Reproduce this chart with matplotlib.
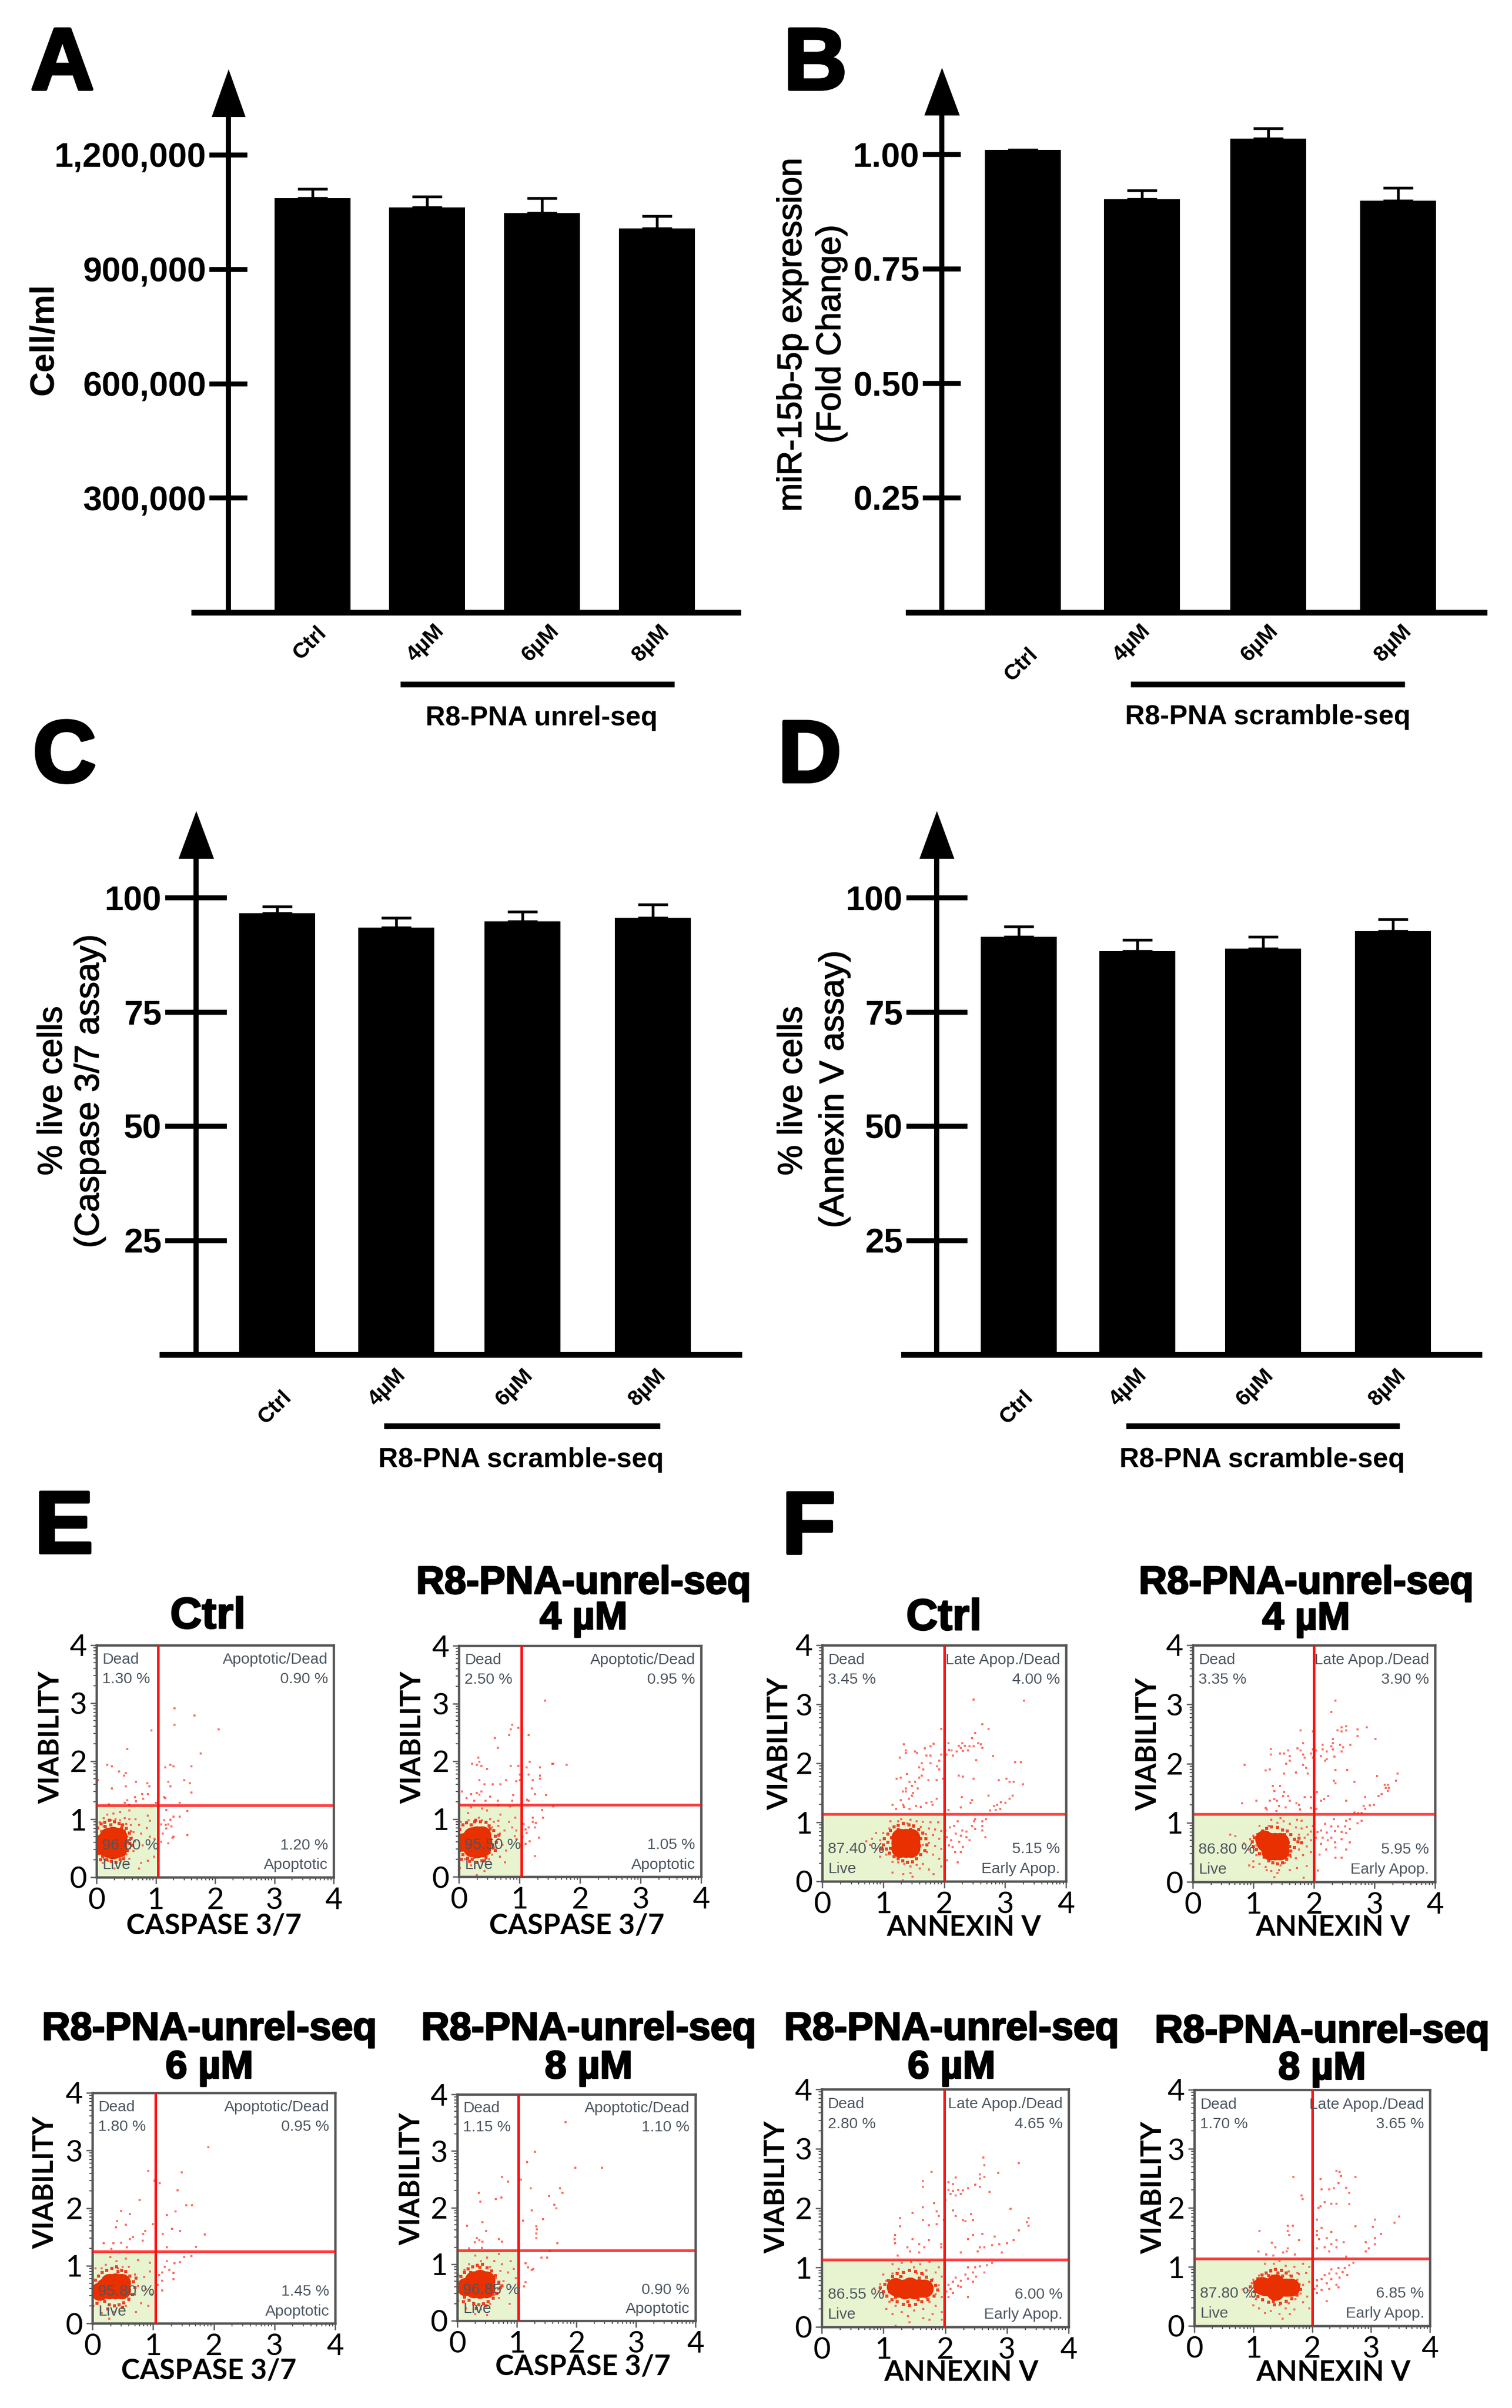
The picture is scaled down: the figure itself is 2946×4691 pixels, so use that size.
import numpy as np
import matplotlib
matplotlib.use('Agg')
import matplotlib.pyplot as plt
from matplotlib.lines import Line2D
from matplotlib.patches import Rectangle
import matplotlib.patheffects as pe

W, H = 2946, 4691
PT = 300 / 72  # pixels per point
plt.rcParams['font.family'] = ['Liberation Sans', 'DejaVu Sans']

doses = ['Ctrl', '4µM', '6µM', '8µM']

# bar charts
cells_mean = [1087000, 1062500, 1048000, 1007000]
cells_err = [24000, 28000, 39000, 32500]
cells_ticks = [300000, 600000, 900000, 1200000]
cells_ticklabels = ['300,000', '600,000', '900,000', '1,200,000']

mir_mean = [1.01, 0.902, 1.035, 0.899]
mir_err = [0.0, 0.020, 0.022, 0.028]
mir_ticks = [0.25, 0.50, 0.75, 1.00]
mir_ticklabels = ['0.25', '0.50', '0.75', '1.00']

caspase_mean = [96.6, 93.5, 94.8, 95.6]
caspase_err = [1.5, 2.1, 2.2, 2.9]
annexin_mean = [91.5, 88.3, 88.9, 92.7]
annexin_err = [2.2, 2.5, 2.6, 2.6]
live_ticks = [25, 50, 75, 100]
live_ticklabels = ['25', '50', '75', '100']

# quadrant percentages: upper left, upper right, lower left, lower right
e_pct = [['1.30', '0.90', '96.60', '1.20'], ['2.50', '0.95', '95.50', '1.05'],
         ['1.80', '0.95', '95.80', '1.45'], ['1.15', '1.10', '96.85', '0.90']]
f_pct = [['3.45', '4.00', '87.40', '5.15'], ['3.35', '3.90', '86.80', '5.95'],
         ['2.80', '4.65', '86.55', '6.00'], ['1.70', '3.65', '87.80', '6.85']]

e_gates = [(1.04, 1.237), (1.03, 1.248), (1.04, 1.249), (1.03, 1.246)]
f_gates = [(2.0, 1.143), (2.0, 1.148), (1.99, 1.136), (2.0, 1.142)]

# flow cytometry events
# *_core is the solid centre of the cloud, *_ring the crowded events just around it
e1_core = [(.28, .6), (.2, .6), (.36, .6), (.28, .72), (.28, .47), (.2, .7), (.36, .7), (.2, .5), (.36, .5), (.12, .6), (.05, .55)]
e1_ring = [(.02, .85), (.08, .92), (.14, .95), (.22, .98), (.3, .96), (.38, .93), (.44, .9), (.5, .84), (.55, .76), (.58, .66),
           (.56, .58), (.52, .46), (.46, .38), (.4, .3), (.33, .26), (.25, .27), (.17, .3), (.1, .36), (.04, .42), (.02, .7),
           (.47, .8), (.52, .62), (.46, .32), (.15, .88), (.24, .9), (.42, .85), (.07, .3), (.6, .55)]
e1_pts = [(1.32, 2.91), (1.65, 2.79), (1.32, 2.63), (2.06, 2.55), (.93, 2.53), (.52, 2.21), (1.76, 2.13), (.18, 1.94),
          (.26, 1.91), (.38, 1.82), (.49, 1.8), (.47, 1.75), (.03, 1.67), (.67, 1.65), (.86, 1.62), (.89, 1.57),
          (.49, 1.57), (.26, 1.53), (1.16, 1.89), (1.25, 1.94), (1.3, 1.91), (1.6, 1.91), (1.21, 1.65), (1.25, 1.57),
          (1.48, 1.67), (1.58, 1.62), (1.6, 1.46), (.65, 1.38), (.77, 1.43), (.87, 1.43), (.79, 1.35), (.67, 1.31),
          (.52, 1.33), (1.14, 1.38), (1.16, 1.36), (1.4, 1.28), (.21, 1.26), (.48, 1.28), (.55, 1.25), (1.0, 1.28),
          (1.18, 1.16), (1.53, 1.14), (1.4, 1.04), (1.3, 1.04), (1.25, .99), (1.14, .98), (1.09, .91), (1.17, .9),
          (1.21, .91), (1.26, .88), (1.18, .84), (1.12, .75), (1.53, .73), (1.3, .7), (1.28, .68), (1.09, .61), (1.21, .58),
          (.18, 1.08), (.29, 1.1), (.4, 1.12), (.55, 1.15), (.66, 1.0), (.87, 1.06), (.9, .97), (.85, .85), (.72, .9),
          (.75, .75), (.62, .78), (.65, .62), (.78, .55), (.9, .7), (.98, .66), (.97, .35), (.87, .28), (.75, .25),
          (.72, .15), (.5, .22), (.3, .15), (.3, .0), (.1, .25), (.05, .95), (.02, .4), (.55, 1.0), (.48, 1.02), (.4, .98),
          (.32, 1.0), (.25, .98), (.12, 1.02), (.58, .9), (.5, .92), (.42, .9), (.12, .88), (.08, .8), (.58, .8), (.52, .7),
          (.6, .68), (.56, .5), (.62, .45), (.5, .4), (.55, .32), (.4, .25), (.2, .28), (.12, .32), (.05, .5), (.04, .7)]

e2_core = [(.3, .6), (.38, .6), (.22, .6), (.3, .72), (.3, .48), (.38, .72), (.22, .7), (.22, .5), (.38, .5), (.14, .62), (.06, .6), (.4, .62)]
e2_ring = [(.02, .82), (.07, .9), (.13, .93), (.2, .9), (.28, .98), (.36, .95), (.45, .94), (.5, .88), (.58, .8), (.6, .7),
           (.62, .6), (.57, .5), (.5, .42), (.45, .33), (.38, .28), (.3, .25), (.22, .3), (.14, .32), (.07, .38), (.02, .45),
           (.56, .55), (.52, .83), (.66, .72), (.42, .28), (.18, .27), (.26, .95), (.6, .45), (.04, .3)]
e2_pts = [(1.42, 3.05), (.88, 2.63), (.98, 2.58), (.86, 2.55), (.83, 2.45), (1.15, 2.45), (.59, 2.4), (.64, 2.23),
          (.32, 2.06), (.22, 1.96), (.3, 1.94), (.34, 1.99), (.37, 1.92), (.47, 1.87), (.86, 1.92), (.98, 1.92),
          (1.17, 1.99), (1.12, 1.89), (1.34, 1.89), (1.54, 1.96), (1.56, 1.96), (1.78, 1.94), (1.01, 1.77), (1.15, 1.77),
          (1.34, 1.75), (1.34, 1.7), (.34, 1.67), (.78, 1.67), (.95, 1.65), (1.01, 1.67), (1.22, 1.67), (.42, 1.6),
          (.56, 1.6), (.69, 1.6), (1.2, 1.53), (.05, 1.48), (.3, 1.45), (.34, 1.42), (.37, 1.48), (.2, 1.43), (.9, 1.41),
          (1.25, 1.43), (1.44, 1.41), (.52, 1.39), (.13, 1.36), (.25, 1.32), (.44, 1.32), (.64, 1.32), (.88, 1.32),
          (1.13, 1.33), (1.15, 1.32), (1.37, 1.16), (1.56, 1.22), (1.22, 1.02), (1.39, 1.02), (1.22, .95), (1.27, .93),
          (1.25, .85), (1.07, .92), (1.1, .82), (1.15, .85), (1.12, .76), (1.32, .68), (1.17, .61), (1.05, .69), (1.1, .57),
          (1.25, .36), (.2, 1.2), (.38, 1.18), (.65, 1.24), (.85, 1.22), (.47, 1.15), (.15, 1.1), (.16, .98), (.33, 1.02),
          (.38, .98), (.45, .95), (.52, 1.0), (.58, .95), (.65, .97), (.69, 1.08), (.93, 1.02), (.83, .95), (.55, .85),
          (.65, .88), (.68, .75), (.75, .8), (.88, .85), (.95, .8), (.92, .7), (.65, .65), (.72, .55), (.78, .45), (.62, .5),
          (.68, .35), (.76, .25), (.45, .35), (.42, .1), (.3, .03), (.1, .3), (.02, .15), (.03, .95), (.5, .3), (.55, .38),
          (.95, .65), (.2, .2)]

e3_core = [(.38, .65), (.3, .65), (.46, .65), (.38, .71), (.38, .58), (.28, .58), (.48, .58), (.28, .7), (.48, .7), (.2, .62), (.12, .55)]
e3_ring = [(.05, .75), (.1, .82), (.16, .88), (.24, .92), (.32, .95), (.4, .98), (.48, .92), (.55, .9), (.62, .82), (.68, .72),
           (.7, .62), (.66, .5), (.6, .42), (.52, .36), (.44, .32), (.36, .3), (.28, .32), (.2, .38), (.13, .42), (.06, .45),
           (.03, .6), (.58, .62), (.15, .72), (.5, .28), (.25, .25), (.72, .78), (.42, .9), (.08, .35)]
e3_pts = [(1.91, 3.06), (.92, 2.65), (1.47, 2.62), (1.02, 2.48), (1.11, 2.43), (1.4, 2.31), (.78, 2.14), (1.55, 2.05),
          (1.64, 2.05), (.47, 1.95), (.62, 1.9), (1.05, 1.95), (1.37, 1.94), (1.23, 1.88), (.41, 1.77), (.55, 1.71),
          (1.0, 1.72), (.39, 1.67), (1.31, 1.64), (1.45, 1.6), (.87, 1.6), (.84, 1.55), (1.16, 1.55), (1.85, 1.54),
          (.67, 1.5), (.62, 1.46), (.19, 1.39), (.35, 1.39), (.47, 1.4), (1.71, 1.33), (.83, 1.43), (1.23, 1.32),
          (.31, 1.29), (.57, 1.32), (1.63, 1.17), (1.51, 1.15), (1.45, 1.06), (1.35, 1.04), (1.23, 1.08), (1.19, .98),
          (1.27, .93), (1.34, .87), (1.15, .88), (1.1, .84), (1.34, .77), (1.15, .74), (1.07, .67), (1.15, .57),
          (.3, 1.15), (.55, 1.12), (.75, 1.1), (.95, 1.05), (.4, 1.08), (.22, 1.02), (.15, .95), (.6, .98), (.7, .85),
          (.85, .8), (.95, .9), (.62, .72), (.75, .65), (.88, .6), (.98, .5), (.8, .35), (.6, .4), (.55, .3), (.35, .2),
          (.28, .08), (.15, .18), (.02, .3), (.7, .5), (.62, .55), (.5, .98), (.42, .95), (.05, .95), (.92, .3), (.72, .2)]

e4_core = [(.38, .65), (.3, .65), (.46, .65), (.38, .74), (.38, .55), (.28, .56), (.48, .56), (.28, .72), (.48, .72), (.2, .62), (.14, .6)]
e4_ring = [(.06, .78), (.12, .85), (.18, .92), (.26, .95), (.34, .98), (.42, 1.0), (.5, .93), (.58, .88), (.64, .8), (.7, .68),
           (.72, .58), (.66, .48), (.6, .4), (.52, .34), (.44, .3), (.36, .28), (.28, .3), (.2, .36), (.12, .42), (.07, .5),
           (.04, .65), (.6, .72), (.22, .85), (.48, .26), (.32, .22), (.75, .62), (.38, .94), (.1, .34)]
e4_pts = [(1.82, 3.51), (1.3, 2.98), (1.17, 2.8), (1.98, 2.7), (2.43, 2.7), (.75, 2.54), (.85, 2.46), (1.07, 2.49),
          (1.23, 2.34), (1.72, 2.34), (1.77, 2.26), (.36, 2.26), (1.54, 2.2), (.74, 2.18), (.65, 2.15), (.39, 2.1),
          (1.63, 2.05), (1.66, 1.99), (1.25, 1.95), (1.44, 1.8), (1.1, 1.77), (.42, 1.74), (.16, 1.68), (1.33, 1.67),
          (1.34, 1.61), (.48, 1.59), (1.33, 1.54), (.33, 1.46), (.37, 1.42), (.42, 1.4), (.29, 1.39), (.7, 1.44),
          (.75, 1.4), (1.68, 1.37), (1.33, 1.46), (.2, 1.28), (.41, 1.29), (1.55, 1.23), (1.41, 1.12), (1.51, 1.12),
          (1.15, 1.02), (1.19, .94), (1.25, .9), (1.28, .92), (1.15, .68), (1.12, .61), (.3, 1.15), (.5, 1.12), (.7, 1.18),
          (.9, 1.05), (.75, 1.0), (.62, 1.05), (.4, 1.05), (.2, 1.0), (.12, .9), (.55, .95), (.72, .88), (.85, .85),
          (.95, .92), (.65, .75), (.78, .7), (.9, .6), (.98, .75), (.68, .55), (.7, .4), (.55, .3), (.4, .2), (.3, .12),
          (.15, .22), (.5, .1), (.02, .35), (.03, .8), (.88, .3), (.62, .45)]

f1_core = [(1.37, .65), (1.28, .65), (1.46, .65), (1.37, .74), (1.37, .56), (1.28, .56), (1.46, .56), (1.28, .74), (1.46, .74)]
f1_ring = [(1.02, .72), (1.08, .8), (1.12, .86), (1.18, .92), (1.25, .95), (1.33, .98), (1.42, .96), (1.5, .94), (1.58, .88),
           (1.65, .82), (1.7, .72), (1.72, .62), (1.68, .52), (1.62, .45), (1.55, .38), (1.48, .33), (1.4, .32), (1.32, .35),
           (1.25, .38), (1.18, .42), (1.1, .48), (1.05, .55), (1.0, .62), (1.08, .66), (1.12, .56), (1.6, .6), (1.62, .72),
           (1.14, .74), (.98, .55), (1.25, .88), (1.55, .82), (1.45, .88)]
f1_pts = [(2.48, 3.08), (3.31, 3.06), (2.63, 2.66), (2.73, 2.58), (1.95, 2.58), (2.51, 2.51), (2.46, 2.43), (1.34, 2.32),
          (1.83, 2.33), (1.78, 2.29), (1.68, 2.25), (1.37, 2.22), (1.37, 2.17), (1.52, 2.2), (1.56, 2.17), (2.07, 2.34),
          (2.08, 2.23), (2.12, 2.22), (2.04, 2.15), (2.15, 2.13), (2.21, 2.2), (2.24, 2.3), (2.27, 2.26), (2.3, 2.34),
          (2.34, 2.3), (2.31, 2.21), (2.39, 2.22), (2.42, 2.29), (2.48, 2.29), (2.56, 2.34), (2.6, 2.32), (2.63, 2.26),
          (1.71, 2.13), (1.78, 2.13), (1.95, 2.15), (1.92, 2.04), (1.27, 2.1), (1.63, 2.0), (1.78, 2.0), (1.59, 1.93),
          (1.66, 1.9), (1.89, 1.95), (1.92, 1.9), (1.39, 1.82), (1.22, 1.74), (1.29, 1.76), (1.59, 1.76), (1.63, 1.79),
          (1.74, 1.71), (1.88, 1.71), (1.98, 1.74), (1.43, 1.69), (1.52, 1.69), (1.47, 1.62), (1.57, 1.57), (1.32, 1.52),
          (1.37, 1.57), (1.37, 1.52), (1.49, 1.5), (1.47, 1.45), (1.42, 1.4), (1.29, 1.37), (1.88, 1.4), (1.79, 1.35),
          (1.81, 1.3), (1.71, 1.33), (1.15, 1.3), (1.33, 1.3), (1.54, 1.28), (1.62, 1.26), (1.21, 1.23), (1.43, 1.23),
          (1.34, 1.26), (2.01, 1.47), (2.24, 1.79), (2.31, 1.77), (2.48, 1.74), (2.8, 2.12), (2.53, 2.05), (3.17, 2.02),
          (3.26, 2.02), (2.9, 1.71), (3.02, 1.74), (3.07, 1.69), (3.14, 1.69), (3.29, 1.64), (3.12, 1.45), (3.07, 1.4),
          (3.01, 1.33), (2.93, 1.34), (2.87, 1.3), (2.82, 1.28), (2.92, 1.23), (2.85, 1.21), (2.73, 1.45), (2.29, 1.43),
          (2.46, 1.37), (2.43, 1.33), (2.27, 1.25), (2.07, 1.21), (2.75, 1.2), (2.69, 1.05), (2.63, 1.02), (2.51, 1.05),
          (2.49, 1.02), (2.22, 1.02), (2.46, .94), (2.51, .89), (2.63, .94), (2.63, .86), (2.68, .75), (2.37, .84),
          (2.3, .86), (2.16, .94), (2.1, .91), (2.19, .81), (2.11, .7), (2.25, .67), (2.42, .7), (2.31, .58), (2.18, .5),
          (2.27, .5), (2.22, .32), (2.05, .36), (2.02, .86), (2.05, .75), (2.08, .61), (2.14, .58), (2.37, .75), (2.27, .77),
          (1.12, 1.02), (1.25, 1.02), (1.3, 1.05), (1.45, 1.04), (1.55, 1.02), (1.65, 1.01), (1.78, 1.0), (1.9, 1.0),
          (1.4, .98), (1.5, .92), (1.62, .92), (1.75, .9), (1.85, .88), (1.95, .85), (1.7, .8), (1.82, .78), (1.92, .72),
          (1.75, .65), (1.85, .6), (1.95, .55), (1.65, .62), (1.72, .5), (1.82, .45), (1.92, .38), (1.95, .25), (1.65, .3),
          (1.55, .28), (1.45, .25), (1.35, .3), (1.25, .32), (1.15, .33), (1.05, .45), (.95, .42), (.88, .55), (.78, .62),
          (.72, .68), (.82, .72), (.95, .7), (.88, .82), (1.1, .9), (1.0, .82), (1.15, .15), (1.33, .12), (1.45, .14),
          (1.48, .08), (1.32, .02), (1.83, .12), (1.6, .22), (1.75, .2)]

f2_core = [(1.36, .6), (1.28, .6), (1.44, .6), (1.36, .68), (1.36, .52), (1.28, .52), (1.44, .52), (1.28, .68), (1.44, .68), (1.2, .66), (1.18, .72)]
f2_ring = [(.98, .68), (1.02, .75), (1.08, .8), (1.15, .86), (1.22, .9), (1.3, .93), (1.4, .92), (1.48, .88), (1.56, .86),
           (1.62, .8), (1.68, .72), (1.74, .68), (1.8, .66), (1.68, .58), (1.62, .52), (1.6, .45), (1.55, .38), (1.48, .32),
           (1.4, .3), (1.32, .32), (1.25, .36), (1.18, .42), (1.1, .48), (1.05, .55), (1.0, .6), (1.12, .6), (1.58, .66),
           (1.75, .74), (1.6, .6), (1.24, .82), (1.52, .8), (1.08, .68)]
f2_pts = [(2.36, 3.06), (2.29, 2.87), (2.53, 2.63), (2.46, 2.61), (2.39, 2.56), (2.46, 2.54), (2.53, 2.56), (2.72, 2.58),
          (2.87, 2.61), (2.72, 2.46), (3.02, 2.41), (1.78, 2.56), (1.98, 2.54), (2.31, 2.41), (1.82, 2.34), (2.31, 2.34),
          (2.29, 2.29), (2.14, 2.32), (2.43, 2.32), (2.48, 2.27), (2.6, 2.32), (1.29, 2.25), (1.73, 2.26), (1.78, 2.22),
          (1.98, 2.24), (2.03, 2.22), (2.14, 2.24), (2.21, 2.2), (2.31, 2.24), (1.29, 2.15), (1.44, 2.17), (1.51, 2.17),
          (1.58, 2.22), (1.6, 2.13), (1.82, 2.15), (1.95, 2.17), (2.12, 2.13), (2.34, 2.12), (2.46, 2.2), (1.85, 2.1),
          (1.98, 2.1), (1.6, 2.05), (2.21, 2.07), (2.19, 2.05), (1.54, 2.0), (.86, 1.98), (1.82, 1.98), (1.87, 1.93),
          (1.27, 1.9), (1.2, 1.88), (1.7, 1.85), (1.51, 1.83), (1.9, 1.83), (2.36, 1.89), (2.55, 1.89), (3.04, 1.79),
          (3.38, 1.83), (3.36, 1.71), (2.33, 1.71), (2.36, 1.67), (2.67, 1.69), (1.32, 1.62), (1.44, 1.62), (3.17, 1.64),
          (3.22, 1.64), (3.19, 1.59), (3.24, 1.59), (3.22, 1.54), (1.35, 1.54), (1.51, 1.52), (2.05, 1.52), (3.12, 1.48),
          (3.07, 1.45), (1.49, 1.45), (1.58, 1.45), (2.24, 1.45), (1.85, 1.43), (1.95, 1.43), (2.85, 1.43), (.81, 1.33),
          (1.05, 1.37), (1.27, 1.37), (1.35, 1.4), (1.39, 1.37), (1.6, 1.37), (2.12, 1.37), (2.17, 1.4), (2.53, 1.37),
          (1.71, 1.33), (1.75, 1.3), (2.99, 1.3), (2.92, 1.29), (2.82, 1.28), (2.85, 1.23), (1.42, 1.28), (1.53, 1.26),
          (1.2, 1.25), (1.22, 1.22), (1.38, 1.2), (1.77, 1.22), (1.95, 1.25), (2.04, 1.23), (2.67, 1.17), (2.73, 1.16),
          (2.79, 1.16), (2.79, 1.03), (2.72, .99), (2.53, 1.03), (2.59, 1.06), (2.33, 1.06), (2.19, .98), (2.29, .94),
          (2.4, .94), (2.52, .94), (2.59, .89), (2.53, .82), (2.12, .87), (2.21, .83), (2.35, .86), (2.46, .84), (2.06, .84),
          (2.03, .75), (2.14, .75), (2.23, .7), (2.35, .67), (2.46, .72), (2.59, .67), (2.29, .75), (2.12, .64), (2.2, .55),
          (2.36, .58), (2.53, .55), (2.09, .46), (2.36, .41), (2.46, .41), (2.07, .19), (.62, .8), (.7, .77), (.85, .65),
          (.95, .72), (1.0, .58), (.92, .55), (1.05, .45), (1.0, .35), (.93, .28), (1.0, .25), (1.1, .3), (1.2, .25),
          (1.22, .2), (1.3, .18), (1.4, .15), (1.42, .2), (1.35, .08), (1.83, .07), (1.6, .2), (1.72, .23), (1.88, .27),
          (1.95, .5), (1.82, .45), (1.7, .4), (1.75, .55), (1.88, .6), (1.95, .7), (1.85, .75), (1.75, .8), (1.9, .8),
          (1.95, .85), (1.8, .9), (1.7, .92), (1.88, .93), (1.6, .98), (1.5, 1.02), (1.3, 1.05), (1.4, 1.0), (1.25, .95),
          (1.1, .95), (1.15, .86), (1.72, 1.05), (1.8, 1.03), (1.98, .95), (1.45, 1.08), (1.0, .78), (1.05, .62), (1.62, .42),
          (1.52, .32), (1.45, .28)]

f3_core = [(1.43, .65), (1.33, .65), (1.53, .65), (1.43, .68), (1.25, .65), (1.6, .65), (1.35, .62), (1.5, .62), (1.2, .67), (1.66, .65)]
f3_ring = [(.95, .66), (1.02, .72), (1.08, .78), (1.15, .85), (1.22, .9), (1.32, .92), (1.42, .95), (1.52, .93), (1.62, .9),
           (1.7, .84), (1.78, .78), (1.85, .7), (1.88, .62), (1.82, .52), (1.72, .46), (1.62, .42), (1.52, .38), (1.42, .36),
           (1.32, .38), (1.22, .42), (1.14, .46), (1.06, .52), (1.0, .6), (1.1, .6), (1.78, .62), (1.28, .85), (1.58, .82),
           (1.4, .42), (1.56, .46), (1.2, .5)]
f3_pts = [(2.62, 2.85), (3.19, 2.76), (2.64, 2.72), (2.86, 2.59), (1.78, 2.61), (2.56, 2.57), (2.64, 2.52), (2.56, 2.5),
          (2.17, 2.51), (2.05, 2.44), (2.13, 2.4), (1.64, 2.45), (1.64, 2.36), (2.56, 2.36), (2.05, 2.31), (2.13, 2.29),
          (2.21, 2.31), (2.29, 2.3), (2.37, 2.33), (2.09, 2.24), (2.17, 2.21), (2.25, 2.24), (2.72, 2.27), (2.49, 2.39),
          (2.0, 2.13), (1.82, 2.08), (1.64, 2.01), (3.06, 1.99), (1.86, 1.94), (1.47, 1.92), (2.13, 1.96), (1.9, 1.87),
          (1.27, 1.83), (2.42, 1.9), (2.17, 1.87), (2.29, 1.8), (2.45, 1.8), (2.33, 1.78), (3.35, 1.83), (3.33, 1.76),
          (3.35, 1.7), (1.64, 1.8), (1.86, 1.73), (1.74, 1.71), (1.98, 1.8), (1.27, 1.69), (1.19, 1.55), (1.18, 1.48),
          (1.19, 1.41), (3.19, 1.62), (2.45, 1.55), (2.37, 1.48), (2.6, 1.56), (2.8, 1.52), (3.11, 1.46), (3.0, 1.41),
          (2.88, 1.39), (2.76, 1.37), (2.64, 1.34), (2.56, 1.34), (1.47, 1.48), (1.58, 1.39), (1.39, 1.34), (1.66, 1.34),
          (1.43, 1.27), (1.58, 1.25), (1.94, 1.34), (1.94, 1.39), (1.74, 1.46), (1.23, 1.2), (2.25, 1.25), (2.53, 1.27),
          (2.92, 1.25), (2.76, 1.08), (2.68, 1.04), (2.56, 1.02), (2.49, 1.0), (2.37, 1.0), (2.45, .92), (2.5, .85),
          (2.33, .88), (2.64, .92), (2.17, .83), (2.25, .78), (2.37, .81), (2.45, .76), (2.13, .76), (2.05, .71), (2.21, .69),
          (2.09, .64), (2.02, .6), (2.13, .57), (2.25, .67), (2.37, .5), (2.05, .5), (1.15, 1.05), (1.3, 1.08), (1.45, 1.1),
          (1.6, 1.05), (1.75, 1.1), (1.9, 1.0), (1.25, .98), (1.5, 1.0), (1.7, .95), (1.85, .92), (1.95, .85), (1.8, .8),
          (1.9, .7), (1.75, .62), (1.85, .55), (1.95, .5), (1.75, .42), (1.85, .35), (1.95, .25), (1.8, .22), (1.65, .3),
          (1.5, .28), (1.4, .18), (1.3, .25), (1.15, .22), (1.05, .3), (1.2, .35), (1.1, .42), (1.0, .55), (.92, .6), (.85, .65),
          (.95, .72), (1.05, .78), (1.0, .88), (1.15, .9), (1.42, .08), (1.65, .15), (1.75, .12), (1.2, .02), (1.95, .12),
          (1.55, .9), (1.65, .88), (1.3, .85), (1.7, .48), (1.72, .72)]

f4_core = [(1.38, .65), (1.28, .65), (1.48, .65), (1.2, .66), (1.56, .65), (1.15, .68), (1.64, .65), (1.38, .72), (1.38, .58)]
f4_ring = [(.95, .66), (1.02, .74), (1.08, .8), (1.15, .86), (1.22, .9), (1.3, .93), (1.38, .96), (1.48, .94), (1.56, .9),
           (1.65, .84), (1.72, .76), (1.78, .7), (1.8, .62), (1.74, .52), (1.66, .46), (1.56, .42), (1.46, .38), (1.36, .36),
           (1.26, .4), (1.16, .44), (1.08, .5), (1.02, .58), (1.1, .58), (1.72, .62), (1.26, .85), (1.5, .84), (1.34, .42),
           (1.6, .52), (1.14, .78), (1.42, .9)]
f4_pts = [(2.41, 2.63), (2.47, 2.61), (2.49, 2.54), (2.74, 2.52), (2.14, 2.49), (1.68, 2.52), (2.45, 2.42), (2.37, 2.33),
          (2.58, 2.34), (2.16, 2.31), (2.29, 2.31), (2.63, 2.25), (1.82, 2.21), (1.84, 2.15), (2.21, 2.1), (2.14, 2.03),
          (2.33, 2.07), (2.41, 2.07), (2.63, 2.06), (2.11, 2.0), (3.48, 1.85), (3.4, 1.75), (3.07, 1.8), (2.74, 1.69),
          (3.03, 1.68), (1.59, 1.7), (1.67, 1.7), (2.08, 1.8), (2.08, 1.61), (1.11, 1.61), (1.59, 1.61), (1.61, 1.54),
          (2.16, 1.66), (2.33, 1.59), (3.17, 1.56), (3.07, 1.49), (2.91, 1.42), (3.07, 1.38), (2.96, 1.31), (2.91, 1.26),
          (2.08, 1.54), (2.25, 1.49), (2.41, 1.45), (2.54, 1.42), (2.33, 1.38), (2.12, 1.47), (2.21, 1.33), (2.29, 1.26),
          (2.08, 1.31), (2.41, 1.33), (1.78, 1.45), (1.32, 1.41), (1.59, 1.31), (1.57, 1.26), (1.38, 1.33), (1.09, 1.26),
          (1.22, 1.21), (1.34, 1.19), (1.71, 1.21), (1.51, 1.24), (2.58, 1.17), (2.7, 1.07), (2.63, 1.03), (2.55, .98),
          (2.45, .98), (2.33, .96), (2.52, .91), (2.41, .89), (2.6, .86), (2.29, .89), (2.21, .86), (2.47, .82), (2.33, .79),
          (2.16, .79), (2.08, .77), (2.25, .72), (2.41, .7), (2.08, .68), (2.29, .63), (2.16, .61), (2.04, .63), (2.45, .65),
          (2.08, .56), (2.25, .42), (1.2, 1.05), (1.35, 1.05), (1.45, 1.1), (1.55, 1.02), (1.7, 1.0), (1.85, 1.05), (1.95, 1.0),
          (1.3, .95), (1.6, .92), (1.75, .9), (1.9, .9), (1.1, .85), (1.0, .78), (1.75, .78), (1.85, .7), (1.95, .75), (1.7, .65),
          (1.8, .55), (1.92, .5), (1.72, .45), (1.85, .4), (1.95, .3), (1.7, .28), (1.55, .3), (1.45, .2), (1.3, .25), (1.2, .22),
          (1.1, .3), (1.0, .35), (.95, .5), (1.02, .5), (.92, .6), (.98, .72), (.82, .62), (1.5, .12), (1.62, .2), (1.05, .45),
          (1.32, .85), (1.62, .85), (1.78, .88), (1.45, .35), (1.6, .38)]

fig = plt.figure(figsize=(W / 300, H / 300), dpi=300)
heavy = [pe.withStroke(linewidth=0.7, foreground='black')]
semi = [pe.withStroke(linewidth=0.35, foreground='black')]


def fx(x):
    return x / W


def fy(y):
    return 1 - y / H


def add_px_axes(left, right, top, bottom):
    return fig.add_axes([fx(left), fy(bottom), (right - left) / W, (bottom - top) / H])


def bar_panel(vals, errs, ticks, ticklabels, box, c0, step, slots, axis_x, tick_px,
              arrow_w, tick_len, label_dx, label_dy):
    left, right, top, base = box
    ax = add_px_axes(left, right, top, base)
    ax.set_xlim((left - c0) / step, (right - c0) / step)
    ax.set_ylim(0, (base - top) / (base - tick_px) * ticks[-1])
    ax.patch.set_alpha(0)
    ax.bar(slots, vals, width=148 / step, color='black', zorder=2)
    ax.errorbar(slots, vals, yerr=[np.zeros(4), errs], fmt='none', ecolor='black',
                elinewidth=1.3, capsize=7, capthick=1.3, zorder=1)
    for s in ['top', 'right']:
        ax.spines[s].set_visible(False)
    ax.spines['left'].set_position(('data', (axis_x - c0) / step))
    ax.spines['left'].set_linewidth(2.4)
    ax.spines['bottom'].set_linewidth(2.7)
    ax.set_yticks(ticks, ticklabels, fontweight='bold', fontsize=16)
    ax.tick_params(axis='y', direction='inout', length=tick_len / PT, width=2.3, pad=1.5)
    ax.set_xticks([])
    # arrow head on the y axis
    ax.plot([(axis_x - c0) / step], [1 + 46 / (base - top)], transform=ax.get_xaxis_transform(),
            marker=[(-arrow_w / 93 / 2, -0.5), (arrow_w / 93 / 2, -0.5), (0, 0.5)],
            ms=93 / PT, color='black', mew=0, clip_on=False)
    for i, lab in enumerate(doses):
        ax.annotate(lab, xy=(slots[i], 0), xycoords=ax.get_xaxis_transform(),
                    xytext=(label_dx[i] / PT, -label_dy[i] / PT), textcoords='offset points',
                    rotation=45, ha='center', va='center', fontweight='bold', fontsize=10.3)
    return ax


def group_label(x0, x1, y, text, tx, ty):
    fig.add_artist(Line2D([fx(x0), fx(x1)], [fy(y), fy(y)], color='black', lw=2.7, solid_capstyle='butt'))
    fig.text(fx(tx), fy(ty), text, ha='center', va='center', fontweight='bold', fontsize=12.8)


def ylab(x, y, text, **kw):
    fig.text(fx(x), fy(y), text, rotation=90, ha='center', va='center', fontsize=16, **kw)


slots_a = [0, 1, 2, 3]
slots_b = [0, 0.95, 1.96, 3]
dx_a, dy_a = [-5, -3, -3, -12], [60, 60, 60, 60]
dx_b, dy_b = [-3, -19, -17, -10], [102, 60, 60, 60]
dx_c, dy_c = [-4, -18, -16, -11], [103, 64, 64, 64]

bar_panel(cells_mean, cells_err, cells_ticks, cells_ticklabels, (378, 1438, 227, 1193),
          608.5, 223.8, slots_a, 445, 302, 66, 74, dx_a, dy_a)
bar_panel(mir_mean, mir_err, mir_ticks, mir_ticklabels, (1770, 2892, 224, 1193),
          1993, 243.7, slots_b, 1835, 301, 69, 74, dx_b, dy_b)
bar_panel(caspase_mean, caspase_err, live_ticks, live_ticklabels, (316, 1440, 1672, 2639),
          540, 244, slots_b, 381.5, 1749, 69, 120, dx_c, dy_c)
bar_panel(annexin_mean, annexin_err, live_ticks, live_ticklabels, (1761, 2882, 1672, 2639),
          1985, 243, slots_b, 1825, 1749, 68, 119, dx_c, dy_c)

group_label(780, 1314, 1333, 'R8-PNA unrel-seq', 1055, 1399)
group_label(2203, 2737, 1333, 'R8-PNA scramble-seq', 2470, 1397)
group_label(748, 1286, 2778, 'R8-PNA scramble-seq', 1015, 2844)
group_label(2194, 2727, 2778, 'R8-PNA scramble-seq', 2459, 2844)

ylab(86, 661, 'Cell/ml', fontweight='bold')
ylab(1544, 652, 'miR-15b-5p expression', path_effects=semi)
ylab(1620, 651, '(Fold Change)', path_effects=semi)
ylab(103, 2125, '% live cells', path_effects=semi)
ylab(175, 2126, '(Caspase 3/7 assay)', path_effects=semi)
ylab(1545, 2125, '% live cells', path_effects=semi)
ylab(1626, 2122, '(Annexin V assay)', path_effects=semi)

# panel letters, rounded with a stroke
for lab, x, y in [('A', 60, 174), ('B', 1527, 174), ('C', 64, 1523), ('D', 1516, 1523), ('E', 68, 3025), ('F', 1524, 3026)]:
    fig.text(fx(x), fy(y), lab, fontweight='bold', fontsize=41, ha='left', va='baseline',
             path_effects=[pe.withStroke(linewidth=1.5, foreground='black', capstyle='round', joinstyle='round')])

minor = np.concatenate([d + np.log10(np.arange(2, 10)) for d in range(4)])
label_col = '#4c5660'


def flow_panel(box, points, ring, core, gate, pct, names, xlabel, vlab_pos, xlab_pos):
    left, right, top, bottom = box
    ax = add_px_axes(left, right, top, bottom)
    ax.set_xlim(0, 4)
    ax.set_ylim(0, 4)
    gx, gy = gate
    ax.add_patch(Rectangle((0, 0), gx, gy, color='#e8f3cf', lw=0, zorder=0))
    px, py = zip(*points)
    ax.plot(px, py, ls='none', marker='s', ms=1.1, mew=0, color='#ff3020', alpha=0.7, zorder=2)
    rx, ry = zip(*ring)
    ax.plot(rx, ry, ls='none', marker='s', ms=1.4, mew=0, color='#ee3010', alpha=0.9, zorder=2)
    cx, cy = zip(*core)
    ax.plot(cx, cy, ls='none', marker='o', ms=8.5, mew=0, color='#e83000', zorder=2)
    ax.axvline(gx, color='#ff1010', lw=1.2, zorder=3)
    ax.axhline(gy, color='#ff1010', lw=1.3, alpha=0.8, zorder=3)
    for s in ax.spines.values():
        s.set_color('#555555')
        s.set_linewidth(1.1)
    for axis in (ax.xaxis, ax.yaxis):
        axis.set_ticks([0, 1, 2, 3, 4])
        axis.set_ticks(minor, minor=True)
    ax.set_xticklabels(['0', '1', '2', '3', '4'], family='Lato', fontsize=14)
    ax.set_yticklabels(['0', '1', '2', '3', '4'], family='Lato', fontsize=14)
    ax.tick_params(which='major', length=3, width=0.6, color='#555555', pad=1.5)
    ax.tick_params(which='minor', length=1.5, width=0.5, color='#555555')
    txt = dict(transform=ax.transAxes, fontsize=7.2, color=label_col, zorder=5)
    ax.text(0.024, 0.938, names[0], ha='left', va='center', **txt)
    ax.text(0.024, 0.854, pct[0] + ' %', ha='left', va='center', **txt)
    ax.text(0.976, 0.938, names[1], ha='right', va='center', **txt)
    ax.text(0.976, 0.854, pct[1] + ' %', ha='right', va='center', **txt)
    ax.text(0.024, 0.137, pct[2] + ' %', ha='left', va='center', **txt)
    ax.text(0.024, 0.052, names[2], ha='left', va='center', **txt)
    ax.text(0.976, 0.137, pct[3] + ' %', ha='right', va='center', **txt)
    ax.text(0.976, 0.052, names[3], ha='right', va='center', **txt)
    fig.text(fx(vlab_pos[0]), fy(vlab_pos[1]), 'VIABILITY', rotation=90, family='Lato',
             fontweight='bold', fontsize=13.2, ha='center', va='center')
    fig.text(fx(xlab_pos[0]), fy(xlab_pos[1] + 5), xlabel, family='Lato', fontweight='bold',
             fontsize=13.2, ha='center', va='center')


def flow_title(x, y1, y2, dose):
    fig.text(fx(x), fy(y1 + 7), 'R8-PNA-unrel-seq', ha='center', va='center', fontweight='bold', fontsize=18.3, path_effects=heavy)
    fig.text(fx(x), fy(y2 + 7), dose, ha='center', va='center', fontweight='bold', fontsize=18.3, path_effects=heavy)


e_names = ['Dead', 'Apoptotic/Dead', 'Live', 'Apoptotic']
f_names = ['Dead', 'Late Apop./Dead', 'Live', 'Early Apop.']

flow_panel((188, 650, 3205, 3657), e1_pts, e1_ring, e1_core, e_gates[0], e_pct[0], e_names, 'CASPASE 3/7', (99, 3385), (417, 3747))
flow_panel((894, 1366, 3206, 3656), e2_pts, e2_ring, e2_core, e_gates[1], e_pct[1], e_names, 'CASPASE 3/7', (804, 3385), (1124, 3747))
flow_panel((180, 653, 4077, 4526), e3_pts, e3_ring, e3_core, e_gates[2], e_pct[2], e_names, 'CASPASE 3/7', (88, 4252), (407, 4614))
flow_panel((891, 1355, 4080, 4521), e4_pts, e4_ring, e4_core, e_gates[3], e_pct[3], e_names, 'CASPASE 3/7', (802, 4245), (1136, 4606))
flow_panel((1602, 2077, 3205, 3665), f1_pts, f1_ring, f1_core, f_gates[0], f_pct[0], f_names, 'ANNEXIN V', (1519, 3397), (1878, 3750))
flow_panel((2324, 2796, 3205, 3666), f2_pts, f2_ring, f2_core, f_gates[1], f_pct[1], f_names, 'ANNEXIN V', (2237, 3398), (2597, 3750))
flow_panel((1601, 2082, 4070, 4533), f3_pts, f3_ring, f3_core, f_gates[2], f_pct[2], f_names, 'ANNEXIN V', (1513, 4261), (1873, 4617))
flow_panel((2327, 2786, 4071, 4531), f4_pts, f4_ring, f4_core, f_gates[3], f_pct[3], f_names, 'ANNEXIN V', (2247, 4262), (2598, 4617))

fig.text(fx(405), fy(3150), 'Ctrl', ha='center', va='center', fontweight='bold', fontsize=20.5, path_effects=heavy)
fig.text(fx(1839), fy(3153), 'Ctrl', ha='center', va='center', fontweight='bold', fontsize=20.5, path_effects=heavy)
flow_title(1137, 3078, 3147, '4 µM')
flow_title(2545, 3078, 3148, '4 µM')
flow_title(408, 3947, 4022, '6 µM')
flow_title(1147, 3947, 4022, '8 µM')
flow_title(1854, 3947, 4022, '6 µM')
flow_title(2576, 3952, 4024, '8 µM')

fig.savefig('out.png', dpi=300)
